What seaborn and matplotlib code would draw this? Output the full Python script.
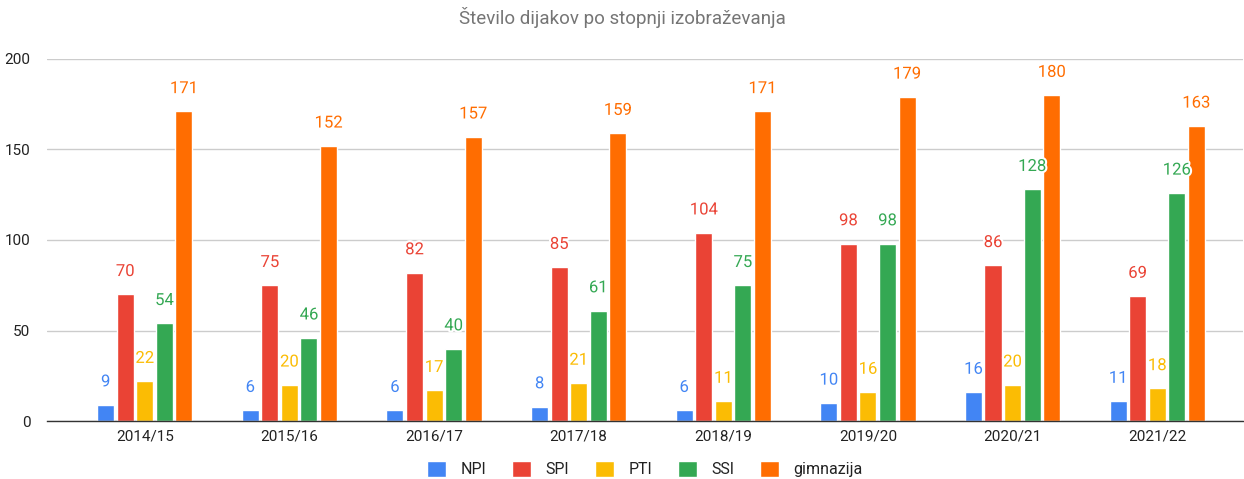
import matplotlib
matplotlib.use("Agg")
import matplotlib.pyplot as plt
import matplotlib.patheffects as pe
import seaborn as sns
import pandas as pd

years = ["2014/15", "2015/16", "2016/17", "2017/18", "2018/19", "2019/20", "2020/21", "2021/22"]
NPI = [9, 6, 6, 8, 6, 10, 16, 11]
SPI = [70, 75, 82, 85, 104, 98, 86, 69]
PTI = [22, 20, 17, 21, 11, 16, 20, 18]
SSI = [54, 46, 40, 61, 75, 98, 128, 126]
gimnazija = [171, 152, 157, 159, 171, 179, 180, 163]
series_names = ["NPI", "SPI", "PTI", "SSI", "gimnazija"]
colors = ["#4285F4", "#EA4335", "#FBBC04", "#34A853", "#FF6D01"]

series = [NPI, SPI, PTI, SSI, gimnazija]
rows = []
for name, vals in zip(series_names, series):
    for y, v in zip(years, vals):
        rows.append({"year": y, "series": name, "value": v})
df = pd.DataFrame(rows)

sns.set_theme(style="white")
plt.rcParams["font.family"] = ["Roboto", "DejaVu Sans"]

fig = plt.figure(figsize=(12.44, 4.79), dpi=100)
ax = fig.add_axes([0.0378, 0.121, 0.961, 0.756])

sns.barplot(data=df, x="year", y="value", hue="series", order=years,
            hue_order=series_names, palette=colors, width=0.676, gap=0.13,
            saturation=1, ax=ax, legend=True, errorbar=None)

for container, col in zip(ax.containers, colors):
    labels = ax.bar_label(container, padding=11, color=col, fontsize=12)
    for t in labels:
        t.set_path_effects([pe.withStroke(linewidth=3, foreground="white")])

ax.set_ylim(0, 200)
ax.set_xlim(-0.676, 7.59)
ax.set_yticks([0, 50, 100, 150, 200])
ax.yaxis.grid(True, color="#CCCCCC", linewidth=1)
ax.set_axisbelow(True)
for s in ["top", "right", "left"]:
    ax.spines[s].set_visible(False)
ax.spines["bottom"].set_color("#333333")
ax.spines["bottom"].set_linewidth(1)
ax.tick_params(axis="both", length=0, labelsize=11, colors="#222222", pad=6)
ax.tick_params(axis="y", pad=12)
ax.set_xlabel("")
ax.set_ylabel("")

fig.suptitle("Število dijakov po stopnji izobraževanja", x=0.5, y=0.985,
             fontsize=13.5, color="#757575")

leg = ax.legend(loc="center", bbox_to_anchor=(0.5, -0.133), ncol=5,
                frameon=False, fontsize=11.5, handlelength=1.2, handleheight=1.2,
                columnspacing=1.6, handletextpad=0.9, borderpad=0.1)
for t in leg.get_texts():
    t.set_color("#222222")

fig.savefig("out.png", dpi=100)
